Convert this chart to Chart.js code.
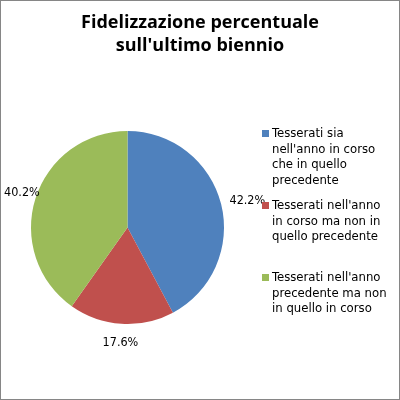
<!DOCTYPE html>
<html>
<head>
<meta charset="utf-8">
<script src="https://cdn.jsdelivr.net/npm/chart.js@4.4.1/dist/chart.umd.min.js"></script>
<style>
  body { margin: 0; background: #fff; }
  canvas { display: block; }
</style>
</head>
<body>
<canvas id="fidelizzazione" width="400" height="400"></canvas>
<script>
// Data
const titleLines = ['Fidelizzazione percentuale', "sull'ultimo biennio"];
const categories = [
	"Tesserati sia nell'anno in corso che in quello precedente",
	"Tesserati nell'anno in corso ma non in quello precedente",
	"Tesserati nell'anno precedente ma non in quello in corso"
];
const percentages = [42.2, 17.6, 40.2];

// Styles
const sliceColors = ['#4F81BD', '#C0504D', '#9BBB59'];
const textFont = '"DejaVu Sans Condensed", "DejaVu Sans", sans-serif';

// Outer frame and two-line title, centred on the whole canvas
const frameAndTitle = {
	id: 'frameAndTitle',
	afterDraw(chart) {
		const ctx = chart.ctx;
		ctx.save();
		ctx.strokeStyle = '#868686';
		ctx.lineWidth = 1;
		ctx.strokeRect(0.5, 0.5, chart.width - 1, chart.height - 1);
		ctx.fillStyle = '#000';
		ctx.font = 'bold 18px "Open Sans", sans-serif';
		ctx.textAlign = 'center';
		ctx.textBaseline = 'middle';
		titleLines.forEach((line, i) => ctx.fillText(line, chart.width / 2, 23 + i * 23));
		ctx.restore();
	}
};

// Percent labels just outside each slice
const outsideLabels = {
	id: 'outsideLabels',
	afterDatasetsDraw(chart) {
		const ctx = chart.ctx;
		const ds = chart.data.datasets[0];
		ctx.save();
		ctx.font = '12.5px ' + textFont;
		ctx.fillStyle = '#000';
		ctx.textAlign = 'center';
		ctx.textBaseline = 'middle';
		chart.getDatasetMeta(0).data.forEach((arc, i) => {
			const p = arc.getProps(['x', 'y', 'startAngle', 'endAngle', 'outerRadius'], true);
			const mid = (p.startAngle + p.endAngle) / 2;
			const text = ds.data[i].toFixed(1) + '%';
			const w = ctx.measureText(text).width;
			const cos = Math.cos(mid), sin = Math.sin(mid);
			const d = p.outerRadius + 8 + Math.abs(cos) * w / 2 + Math.abs(sin) * 7;
			let x = p.x + cos * d;
			const y = p.y + sin * d + 3;
			x = Math.max(4 + w / 2, Math.min(chart.width - 4 - w / 2, x));
			ctx.fillText(text, x, y);
		});
		ctx.restore();
	}
};

// Legend on the right with wrapped entries
const wrappedLegend = {
	id: 'wrappedLegend',
	afterDraw(chart) {
		const ctx = chart.ctx;
		const ds = chart.data.datasets[0];
		const left = 262, maxW = 120, lineH = 15.5;
		ctx.save();
		ctx.font = '13px ' + textFont;
		ctx.textAlign = 'left';
		ctx.textBaseline = 'middle';
		chart.data.labels.forEach((label, i) => {
			const words = label.split(' ');
			const lines = [];
			let cur = '';
			words.forEach(wd => {
				const test = cur ? cur + ' ' + wd : wd;
				if (cur && ctx.measureText(test).width > maxW) {
					lines.push(cur);
					cur = wd;
				} else {
					cur = test;
				}
			});
			lines.push(cur);
			const top = 134 + i * 72;
			ctx.fillStyle = ds.backgroundColor[i];
			ctx.fillRect(left, top - 4, 7, 7);
			ctx.fillStyle = '#000';
			lines.forEach((ln, j) => ctx.fillText(ln, left + 10, top + j * lineH));
		});
		ctx.restore();
	}
};

new Chart(document.getElementById('fidelizzazione'), {
	type: 'pie',
	data: {
		labels: categories,
		datasets: [{
			data: percentages,
			backgroundColor: sliceColors,
			borderWidth: 0
		}]
	},
	options: {
		responsive: false,
		animation: false,
		devicePixelRatio: 1,
		layout: { padding: { left: 31, right: 176, top: 131, bottom: 76 } },
		plugins: {
			legend: { display: false },
			title: { display: false },
			tooltip: { enabled: false }
		}
	},
	plugins: [frameAndTitle, outsideLabels, wrappedLegend]
});
</script>
</body>
</html>
